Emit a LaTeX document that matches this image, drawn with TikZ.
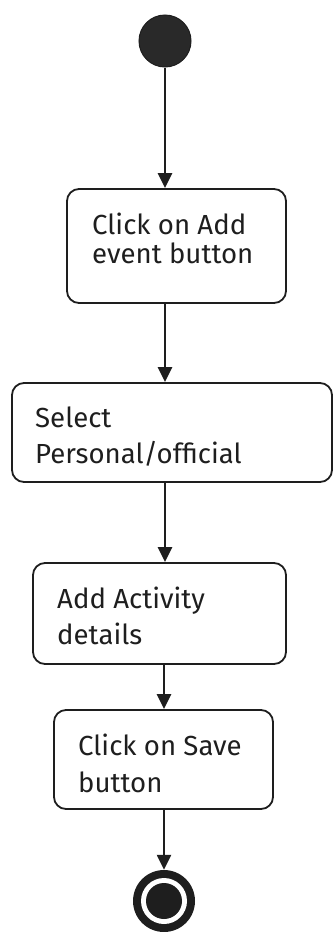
\documentclass[tikz,border=0pt]{standalone}
\usepackage{fontspec}
\setmainfont{Fira Sans}
\usetikzlibrary{arrows.meta}
\definecolor{ink}{HTML}{1E1E1E}
\tikzset{
  actbox/.style={draw=ink, line width=1.8pt, rounded corners=12pt, inner sep=0pt},
  lbl/.style={anchor=base west, inner sep=0pt, text=ink, font=\fontsize{27.6}{32}\selectfont},
  flow/.style={draw=ink, line width=2.4pt, -{Triangle[length=15pt,width=14pt]}},
}
\begin{document}
\begin{tikzpicture}[x=1pt,y=-1pt]
\useasboundingbox (0,0) rectangle (334,932);
% start
\node[circle, fill=ink!95, draw=ink, line width=1pt, minimum size=52pt, inner sep=0pt] (start) at (165,41) {};
% boxes
\node[actbox, minimum width=219pt, minimum height=114pt] (b1) at (176.5,246) {};
\node[actbox, minimum width=320pt, minimum height=99pt] (b2) at (172,432.5) {};
\node[actbox, minimum width=253pt, minimum height=101pt] (b3) at (159.5,613.5) {};
\node[actbox, minimum width=219pt, minimum height=99pt] (b4) at (163.5,759.5) {};
% texts
\node[lbl] (t1a) at (92,234) {Click on Add};
\node[lbl] (t1b) at (92,263) {event button};
\node[lbl] (t2a) at (35,427) {Select};
\node[lbl] (t2b) at (35,463) {Personal/official};
\node[lbl] (t3a) at (57,608) {Add Activity};
\node[lbl] (t3b) at (57,644) {details};
\node[lbl] (t4a) at (78,755) {Click on Save};
\node[lbl] (t4b) at (78,792) {button};
% end
\node[circle, fill=ink, minimum size=62pt, inner sep=0pt] (end) at (164,901) {};
\node[circle, fill=white, minimum size=46pt, inner sep=0pt] (endring) at (end.center) {};
\node[circle, fill=ink, minimum size=36pt, inner sep=0pt] (endcore) at (end.center) {};
% flows
\draw[flow] (start.south) -- (start |- b1.north);
\draw[flow] (b1.south -| start) -- (b2.north -| start);
\draw[flow] (b2.south -| start) -- (b3.north -| start);
\draw[flow] (b3.south -| end) -- (b4.north -| end);
\draw[flow] (b4.south -| end) -- (end.north);
\end{tikzpicture}
\end{document}
